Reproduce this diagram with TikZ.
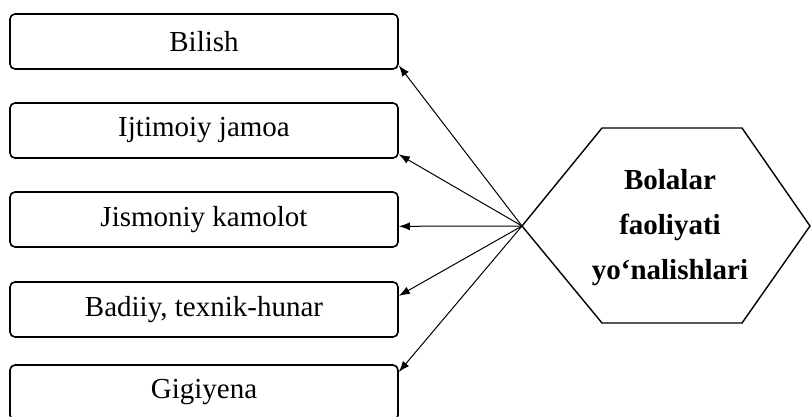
\documentclass[tikz,border=0pt]{standalone}
\usepackage{fontspec}
\setmainfont{Liberation Serif}
\usetikzlibrary{arrows.meta, shapes, positioning}

\begin{document}
\begin{tikzpicture}[x=1pt, y=-1pt]
	\tikzstyle{area} = [draw, rounded corners=5pt, line width=1.6pt, minimum width=388pt, minimum height=55pt, font={\fontsize{29}{34}\selectfont}];
	\tikzstyle{goal} = [inner sep=0pt, font={\bfseries\fontsize{29}{45}\selectfont}, align=center];
	\tikzstyle{hexa} = [line width=1.4pt, line join=miter];
	\tikzstyle{point} = [-{Latex[length=11pt, width=8pt]}, line width=1pt];

	\useasboundingbox (0,0) rectangle (811,417);

	% hexagon round the goal
	\draw[hexa] (522,226) coordinate (tip) -- (602,128) -- (742,128) -- (810,226) -- (742,323) -- (602,323) -- cycle;
	\node[goal] (dir) at (670,228) {Bolalar\\faoliyati\\yo‘nalishlari};

	\foreach \t/\y/\a [count=\i] in {Bilish/41.5/-7, Ijtimoiy jamoa/130.5/-7, Jismoniy kamolot/219.5/-2, {Badiiy, texnik-hunar}/309.5/4, Gigiyena/392.5/6} {
		\node[area] (b\i) at (204,\y) {\t};
		\draw[point] (tip) to (b\i.\a);
	}
\end{tikzpicture}
\end{document}
